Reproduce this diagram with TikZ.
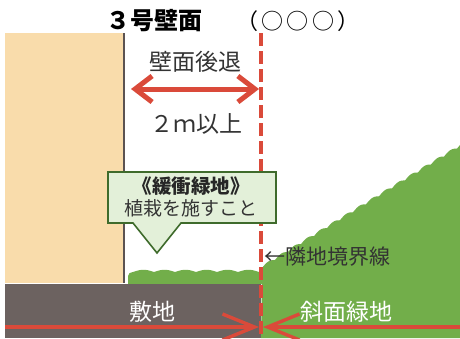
\documentclass[tikz,border=0pt]{standalone}
\usepackage{fontspec}
\setmainfont{Noto Sans CJK JP}
\usetikzlibrary{arrows.meta}

\definecolor{beige}{HTML}{F9DCAB}
\definecolor{ground}{HTML}{6C6260}
\definecolor{leaf}{HTML}{72AE4A}
\definecolor{redline}{HTML}{DA4A3A}
\definecolor{boxfill}{HTML}{E3F0D9}
\definecolor{boxedge}{HTML}{3F6B2C}
\definecolor{ink}{HTML}{333333}

\newcommand{\fs}[1]{\fontsize{#1}{#1}\selectfont}

\tikzset{
  label/.style={inner sep=0pt, text=ink},
  whitelabel/.style={inner sep=0pt, text=white},
}

\begin{document}
\begin{tikzpicture}[x=1pt, y=-1pt]
  \useasboundingbox (0,0) rectangle (460,338);
  \fill[white] (0,0) rectangle (460,338);

  % building
  \fill[beige] (5,33) rectangle (124,283);

  % slope planting on the neighbouring lot (scalloped top edge)
  \fill[leaf] plot[domain=262:460, samples=300]
      (\x, {268 - (\x-262)*0.612 - 2.6*abs(sin(13.846*(\x-262)))})
    -- (460,338) -- (261,338) -- cycle;

  % buffer hedge along the boundary
  \fill[leaf] (262,284) -- (128,284) -- (128,276)
    to[out=90,in=180] (133,272)
    -- plot[domain=133:262, samples=200]
      (\x, {272 - 2.2*abs(sin(8.571*(\x-133)))})
    -- cycle;

  % site ground
  \fill[ground] (5,284) rectangle (261,338);

  % wall face
  \draw[color=ground!85!black, line width=1.6pt] (124,33) -- (124,283);

  % boundary line
  \coordinate (bTop) at (261,33);
  \coordinate (bBot) at (261,338);
  \draw[redline, line width=3.6pt, dash pattern=on 13pt off 5pt] (bTop) -- (bBot);

  % titles
  \node[inner sep=0pt, text=black, font=\fs{24}\bfseries] (title) at (154,21) {３号壁面};
  \node[inner sep=0pt, text=black, font=\fs{22}\addfontfeature{LetterSpace=14}] (sub) at (298,21) {（○○○）};

  % setback dimension
  \node[label, font=\fs{23}] (setback) at (195,62) {壁面後退};
  \coordinate (setL) at (131,89);
  \coordinate (setR) at (259,89);
  \draw[redline, line width=5pt, {Straight Barb[length=17pt,width=26pt]}-{Straight Barb[length=17pt,width=26pt]}] (setL) -- (setR);
  \node[label, font=\fs{23}] (dist) at (196,124) {２ｍ以上};

  % callout
  \filldraw[fill=boxfill, draw=boxedge, line width=1.6pt, line join=miter]
    (108,172) -- (276,172) -- (276,223) -- (181,223) -- (157,253)
    -- (133,223) -- (108,223) -- cycle;
  \node[inner sep=0pt, text=black!85, font=\fs{19.5}\bfseries] (buffer) at (191,186) {《緩衝緑地》};
  \node[label, font=\fs{19}] (plant) at (191,208) {植栽を施すこと};

  % boundary label
  \node[label, font=\fs{21}, anchor=west] (bname) at (264,257) {←隣地境界線};

  % ground labels
  \node[whitelabel, font=\fs{23}] (site) at (152,312) {敷地};
  \node[whitelabel, font=\fs{23}] (slope) at (346,312) {斜面緑地};

  % ground arrows
  \coordinate (gL) at (5,327);
  \coordinate (gMl) at (259,327);
  \coordinate (gR) at (460,327);
  \coordinate (gMr) at (263,327);
  \draw[redline, line width=3.4pt, -{Straight Barb[length=32pt,width=26pt]}] (gL) -- (gMl);
  \draw[redline, line width=3.4pt, -{Straight Barb[length=32pt,width=26pt]}] (gR) -- (gMr);
\end{tikzpicture}
\end{document}
